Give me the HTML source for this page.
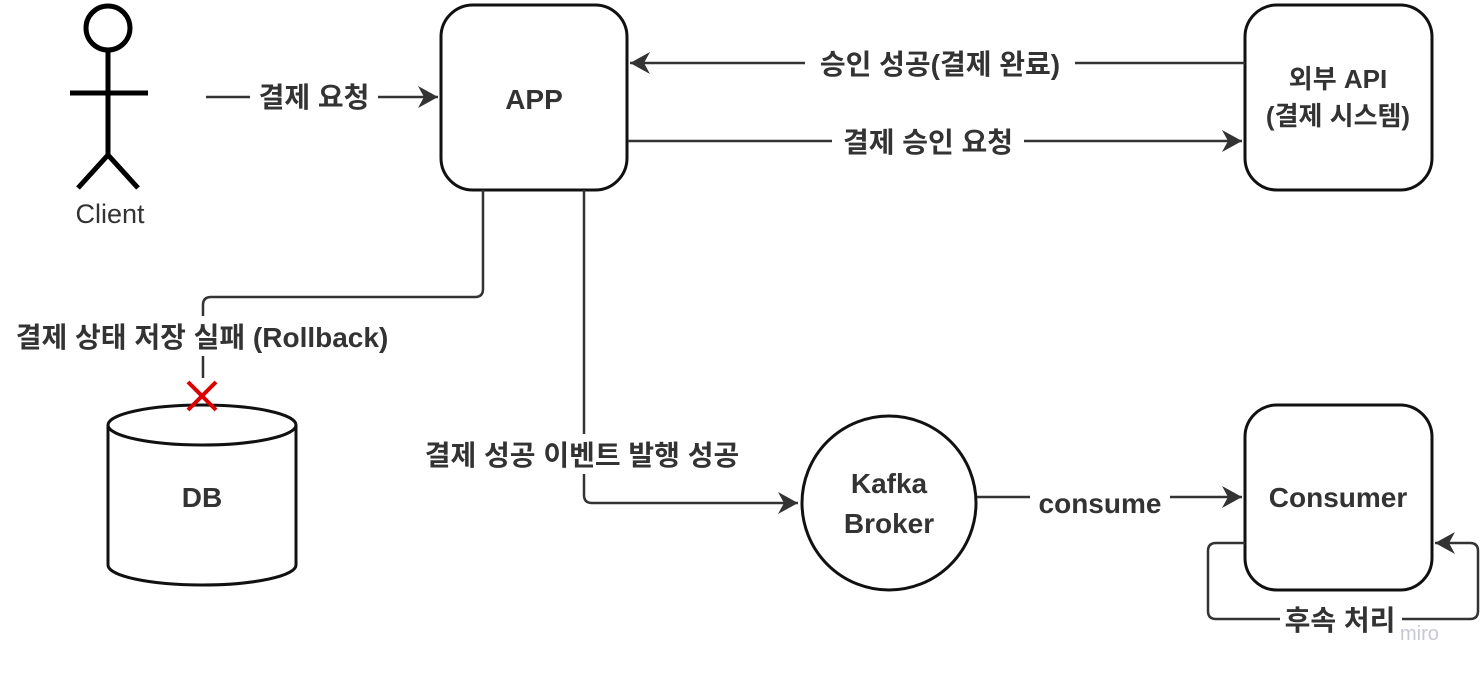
<!DOCTYPE html>
<html><head><meta charset="utf-8"><style>
html,body{margin:0;padding:0;background:#fff;}
svg{display:block;}
text{font-family:"Liberation Sans","Noto Sans CJK KR",sans-serif;fill:#333;}
.b{font-weight:bold;font-size:28px;}
.l{fill:none;stroke:#333;stroke-width:2.5;}
.s{fill:none;stroke:#111;stroke-width:3;}
</style></head><body>
<svg width="1482" height="674" viewBox="0 0 1482 674" xmlns="http://www.w3.org/2000/svg">
<defs>
<marker id="ar" markerWidth="22" markerHeight="22" refX="20" refY="11" orient="auto" markerUnits="userSpaceOnUse"><path d="M0,0 L20,11 L0,22 L6,11 Z" fill="#333"/></marker></defs>
<!-- stick figure -->
<circle cx="108" cy="28" r="22" fill="none" stroke="#000" stroke-width="5"/>
<line x1="108" y1="50" x2="108" y2="155" stroke="#000" stroke-width="5"/>
<line x1="70" y1="93" x2="148" y2="93" stroke="#000" stroke-width="5"/>
<polyline points="78,188 108,155 138,188" fill="none" stroke="#000" stroke-width="5"/>
<text x="110" y="223" text-anchor="middle" font-size="27">Client</text>
<!-- boxes -->
<rect x="441" y="5" width="186" height="185" rx="32" class="s"/>
<text x="534" y="109" text-anchor="middle" class="b">APP</text>
<rect x="1245" y="5" width="187" height="185" rx="32" class="s"/>
<text x="1338" y="88" text-anchor="middle" class="b" style="font-size:26px">외부 API</text>
<text x="1338" y="125" text-anchor="middle" class="b" style="font-size:26px">(결제 시스템)</text>
<rect x="1245" y="405" width="187" height="185" rx="32" class="s"/>
<text x="1338" y="507" text-anchor="middle" class="b">Consumer</text>
<circle cx="889" cy="503" r="87" class="s"/>
<text x="889" y="493" text-anchor="middle" class="b">Kafka</text>
<text x="889" y="533" text-anchor="middle" class="b">Broker</text>
<!-- DB -->
<path d="M108,425 L108,565 A94,20 0 0 0 296,565 L296,425" class="s"/>
<ellipse cx="202" cy="425" rx="94" ry="20" class="s" fill="#fff"/>
<text x="202" y="507" text-anchor="middle" class="b">DB</text>
<!-- connectors -->
<line x1="206" y1="97" x2="438" y2="97" class="l" marker-end="url(#ar)"/>
<rect x="250" y="78" width="128" height="38" fill="#fff"/>
<text x="314" y="107" text-anchor="middle" class="b">결제 요청</text>
<line x1="1245" y1="63" x2="630" y2="63" class="l" marker-end="url(#ar)"/>
<rect x="805" y="44" width="270" height="38" fill="#fff"/>
<text x="940" y="74" text-anchor="middle" class="b">승인 성공(결제 완료)</text>
<line x1="628" y1="141" x2="1242" y2="141" class="l" marker-end="url(#ar)"/>
<rect x="832" y="122" width="192" height="38" fill="#fff"/>
<text x="928" y="152" text-anchor="middle" class="b">결제 승인 요청</text>
<path d="M483,190 L483,289 Q483,297 475,297 L211,297 Q203,297 203,305 L203,378" class="l"/>
<rect x="5" y="316" width="395" height="40" fill="#fff"/>
<text x="202" y="347" text-anchor="middle" class="b">결제 상태 저장 실패 (Rollback)</text>
<path d="M188,382 L216,410 M216,382 L188,410" stroke="#d00" stroke-width="4"/>
<path d="M584,190 L584,495 Q584,503 592,503 L798,503" class="l" marker-end="url(#ar)"/>
<rect x="415" y="434" width="335" height="40" fill="#fff"/>
<text x="582" y="465" text-anchor="middle" class="b">결제 성공 이벤트 발행 성공</text>
<line x1="977" y1="497" x2="1242" y2="497" class="l" marker-end="url(#ar)"/>
<rect x="1030" y="480" width="140" height="38" fill="#fff"/>
<text x="1100" y="513" text-anchor="middle" class="b">consume</text>
<path d="M1245,543 L1216,543 Q1208,543 1208,551 L1208,611 Q1208,619 1216,619 L1470,619 Q1478,619 1478,611 L1478,551 Q1478,543 1470,543 L1435,543" class="l" marker-end="url(#ar)"/>
<rect x="1280" y="600" width="122" height="38" fill="#fff"/>
<text x="1340" y="630" text-anchor="middle" class="b">후속 처리</text>
<text x="1400" y="640" font-size="20" style="fill:#c8c8d4">miro</text>
</svg>
</body></html>
